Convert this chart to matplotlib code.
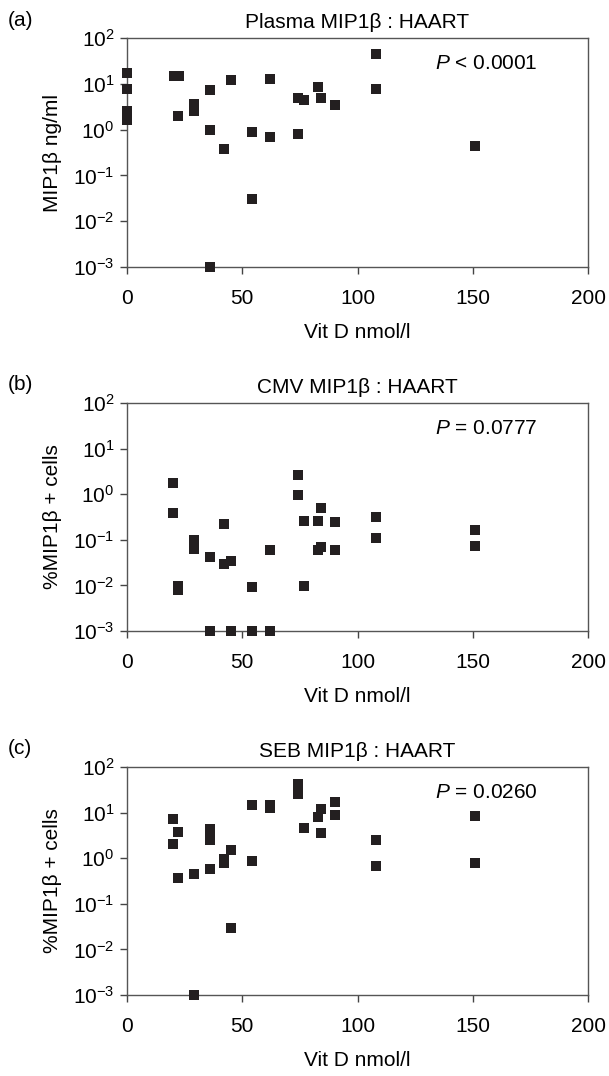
import matplotlib
matplotlib.use("Agg")
import matplotlib.pyplot as plt
from matplotlib.ticker import LogLocator, LogFormatterSciNotation, NullLocator

plt.rcParams['font.family'] = ['Liberation Sans', 'DejaVu Sans']
plt.rcParams['mathtext.fontset'] = 'custom'
plt.rcParams['mathtext.rm'] = 'Liberation Sans'
plt.rcParams['mathtext.it'] = 'Liberation Sans:italic'
plt.rcParams['mathtext.default'] = 'regular'

# ---- data ----
vitd_a = [0, 0, 0, 0, 0, 20.5, 22.4, 22.1, 29.2, 29.2, 36.1, 36.1, 36.1, 42, 45.2,
          54.2, 54.2, 62.1, 62.1, 74.3, 74.3, 76.7, 82.9, 84.1, 90.3, 108, 108, 150.8]
mip_a = [17, 7.8, 2.6, 2.0, 1.6, 14.5, 14.5, 2.0, 3.6, 2.6, 7.4, 1.0, 0.001, 0.37, 12.2,
         0.9, 0.031, 12.9, 0.7, 4.9, 0.8, 4.5, 8.6, 4.8, 3.5, 44, 7.8, 0.44]

vitd_b = [19.9, 19.9, 22.1, 22.1, 29.2, 29.2, 29.2, 36.1, 36.1, 42, 42, 45.2, 45.2,
          54.2, 54.2, 62.1, 62.1, 74.3, 74.3, 76.7, 76.7, 82.9, 84.1, 82.9, 84.1,
          90.3, 90.3, 108, 108, 150.8, 150.8]
mip_b = [1.8, 0.39, 0.0096, 0.008, 0.1, 0.08, 0.062, 0.043, 0.001, 0.22, 0.029, 0.035, 0.001,
         0.0093, 0.001, 0.059, 0.001, 2.65, 0.96, 0.26, 0.0098, 0.26, 0.5, 0.059, 0.07,
         0.24, 0.059, 0.31, 0.11, 0.164, 0.074]

vitd_c = [19.9, 19.9, 22.1, 22.1, 29.2, 29.2, 36.1, 36.1, 36.1, 36.1, 42, 42, 45.2, 45.2,
          54.2, 54.2, 62.1, 62.1, 74.3, 74.3, 76.7, 82.9, 84.1, 84.1, 90.3, 90.3,
          108, 108, 150.8, 150.8]
mip_c = [7.3, 2.0, 3.7, 0.36, 0.44, 0.001, 4.3, 3.3, 2.5, 0.575, 0.95, 0.8, 1.5, 0.03,
         14.4, 0.89, 12.5, 14.5, 43, 25.5, 4.7, 8.0, 12.2, 3.5, 16.7, 8.7,
         2.5, 0.69, 8.5, 0.8]

titles = ["Plasma MIP1\u03b2 : HAART", "CMV MIP1\u03b2 : HAART", "SEB MIP1\u03b2 : HAART"]
ylabels = ["MIP1\u03b2 ng/ml", "%MIP1\u03b2 + cells", "%MIP1\u03b2 + cells"]
pvals = ["$\\it{P}$ < 0.0001", "$\\it{P}$ = 0.0777", "$\\it{P}$ = 0.0260"]
panel_labels = ["(a)", "(b)", "(c)"]
xlabel = "Vit D nmol/l"
xticks = [0, 50, 100, 150, 200]

W, H = 609, 1076
fig = plt.figure(figsize=(W / 100, H / 100), dpi=100)

left_px, right_px = 127, 588
tops = [38, 403, 767]
bottoms = [267, 631, 995]
label_y = [20, 385, 749]

datasets = [(vitd_a, mip_a), (vitd_b, mip_b), (vitd_c, mip_c)]
fs = 15
for i, (xv, yv) in enumerate(datasets):
    ax = fig.add_axes([left_px / W, 1 - bottoms[i] / H,
                       (right_px - left_px) / W, (bottoms[i] - tops[i]) / H])
    ax.scatter(xv, yv, marker='s', s=52, color='#231f20', linewidths=0,
               clip_on=False, zorder=3)
    ax.set_yscale('log')
    ax.set_ylim(1e-3, 1e2)
    ax.set_xlim(0, 200)
    ax.set_xticks(xticks)
    ax.yaxis.set_major_locator(LogLocator(base=10, numticks=10))
    ax.yaxis.set_major_formatter(LogFormatterSciNotation())
    ax.yaxis.set_minor_locator(NullLocator())
    ax.tick_params(axis='both', which='major', direction='out', length=5,
                   width=1, color='#444444', labelsize=fs, pad=4)
    ax.tick_params(axis='x', pad=11)
    for sp in ax.spines.values():
        sp.set_color('#555555')
        sp.set_linewidth(1.0)
    ax.set_title(titles[i], fontsize=fs, pad=7)
    ax.set_ylabel(ylabels[i], fontsize=fs, labelpad=8)
    ax.set_xlabel(xlabel, fontsize=fs, labelpad=11)
    ax.text(0.668, 0.89, pvals[i], transform=ax.transAxes, fontsize=fs,
            ha='left', va='center')
    fig.text(8 / W, 1 - label_y[i] / H, panel_labels[i], fontsize=fs,
             ha='left', va='center')

fig.savefig("out.png", dpi=100)
